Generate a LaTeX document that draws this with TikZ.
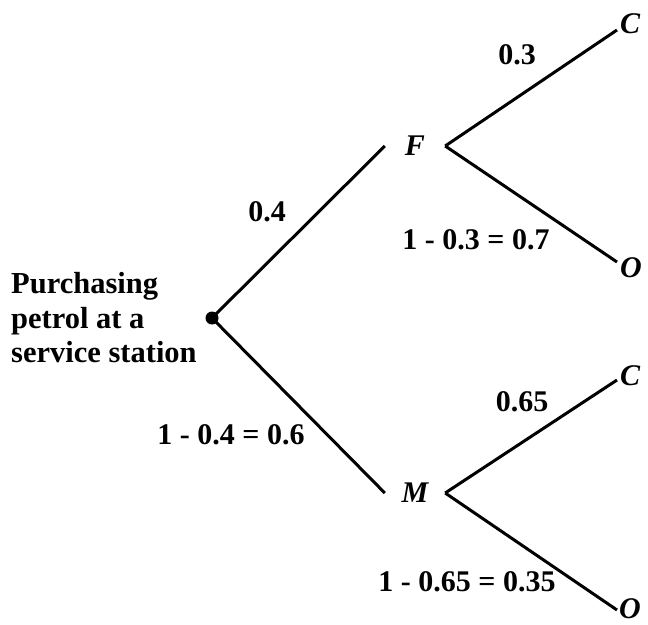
\documentclass[tikz,border=0pt]{standalone}
\usepackage{fontspec}
\setmainfont{Liberation Serif}
\begin{document}
\begin{tikzpicture}[x=1pt,y=-1pt,
  branch/.style={line width=3pt},
  evt/.style={font=\fontsize{30}{33}\selectfont\bfseries\itshape, inner sep=0pt, minimum width=60pt, minimum height=20pt},
  leaf/.style={font=\fontsize{30}{33}\selectfont\bfseries\itshape, inner sep=0pt, anchor=west},
  prob/.style={font=\fontsize{30}{34}\selectfont\bfseries, inner sep=0pt},
  rootdot/.style={circle, fill=black, inner sep=0pt, minimum size=13pt}]
\useasboundingbox (0,0) rectangle (648,624);
\node[rootdot] (root) at (212,318) {};
\node[evt] (F) at (415,146) {F};
\node[evt] (M) at (415,493) {M};
\coordinate (c1) at (617,30);
\coordinate (o1) at (617,262);
\coordinate (c2) at (617,380);
\coordinate (o2) at (617,610);
\node[leaf] (C1) at (620,24) {C};
\node[leaf] (O1) at (620,268) {O};
\node[leaf] (C2) at (620,376) {C};
\node[leaf] (O2) at (619,609) {O};
\draw[branch] (root.center) -- (F.west);
\draw[branch] (root.center) -- (M.west);
\draw[branch] (F.east) -- (c1);
\draw[branch] (F.east) -- (o1);
\draw[branch] (M.east) -- (c2);
\draw[branch] (M.east) -- (o2);
\node[prob] (p1) at (267,212) {0.4};
\node[prob] (p2) at (231,435) {1 - 0.4 = 0.6};
\node[prob] (p3) at (517,55) {0.3};
\node[prob] (p4) at (476,240) {1 - 0.3 = 0.7};
\node[prob] (p5) at (522,402) {0.65};
\node[prob] (p6) at (467,582) {1 - 0.65 = 0.35};
\node[prob, align=left, anchor=west, font=\fontsize{30.5}{34.5}\selectfont\bfseries] (title) at (11,318) {Purchasing\\petrol at a\\service station};
\end{tikzpicture}
\end{document}
